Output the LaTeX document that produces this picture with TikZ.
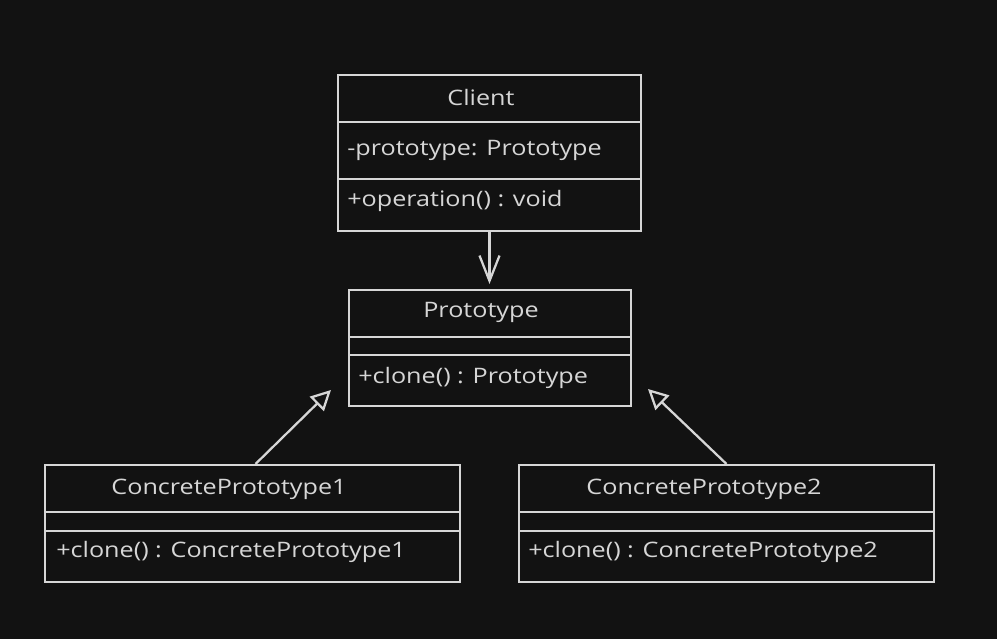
\documentclass[tikz,border=0pt]{standalone}
\usepackage{fontspec}
\setmainfont{Open Sans}[FakeStretch=1.18]
\usetikzlibrary{arrows.meta,calc}
\definecolor{bg}{HTML}{121212}
\definecolor{ink}{HTML}{D6D6D6}
\newdimen\px \px=0.75pt
\begin{document}
\begin{tikzpicture}[x=0.75pt,y=-0.75pt,
  umlbox/.style={draw=ink,fill=bg,line width=1.5pt,inner sep=0pt},
  sep/.style={draw=ink,line width=1.2pt},
  txt/.style={text=ink,inner sep=0pt,font=\fontsize{16}{19}\selectfont},
  ltxt/.style={txt,anchor=west},
  assoc/.style={draw=ink,line width=1.7pt,-{Straight Barb[length=19pt,width=15pt,line width=1.7pt]}},
  inh/.style={draw=ink,line width=1.7pt,-{Triangle[open,length=15pt,width=15pt,line width=1.7pt]}}]
\useasboundingbox[fill=bg] (0,0) rectangle (997,639);
% boxes
\node[umlbox,minimum width=303\px,minimum height=156\px] (client) at (489.5,153) {};
\node[umlbox,minimum width=282\px,minimum height=116\px] (proto) at (490,348) {};
\node[umlbox,minimum width=415\px,minimum height=117\px] (cp1) at (252.5,523.5) {};
\node[umlbox,minimum width=415\px,minimum height=117\px] (cp2) at (726.5,523.5) {};
% separators
\draw[sep] ($(client.north west)+(0,48)$) -- ($(client.north east)+(0,48)$);
\draw[sep] ($(client.north west)+(0,105)$) -- ($(client.north east)+(0,105)$);
\draw[sep] ($(proto.north west)+(0,48)$) -- ($(proto.north east)+(0,48)$);
\draw[sep] ($(proto.north west)+(0,66)$) -- ($(proto.north east)+(0,66)$);
\draw[sep] ($(cp1.north west)+(0,48)$) -- ($(cp1.north east)+(0,48)$);
\draw[sep] ($(cp1.north west)+(0,67)$) -- ($(cp1.north east)+(0,67)$);
\draw[sep] ($(cp2.north west)+(0,48)$) -- ($(cp2.north east)+(0,48)$);
\draw[sep] ($(cp2.north west)+(0,67)$) -- ($(cp2.north east)+(0,67)$);
% texts
\node[txt] (clientT) at (481,97) {Client};
\node[ltxt] (clientA) at (347,150) {-prototype: Prototype};
\node[ltxt] (clientM) at (347,201) {+operation() : void};
\node[txt] (protoT) at (481,312) {Prototype};
\node[ltxt] (protoM) at (358,378) {+clone() : Prototype};
\node[txt] (cp1T) at (229,489) {ConcretePrototype1};
\node[ltxt] (cp1M) at (56,552) {+clone() : ConcretePrototype1};
\node[txt] (cp2T) at (704,489) {ConcretePrototype2};
\node[ltxt] (cp2M) at (528,552) {+clone() : ConcretePrototype2};
% connectors
\coordinate (t0) at (489.5,284);
\coordinate (t1) at (331,390);
\coordinate (t2) at (648,389);
\draw[assoc] (client.south) -- (t0);
\draw[inh] ($(cp1.north)+(3,0)$) -- (t1);
\draw[inh] (cp2.north) -- (t2);
\end{tikzpicture}
\end{document}
